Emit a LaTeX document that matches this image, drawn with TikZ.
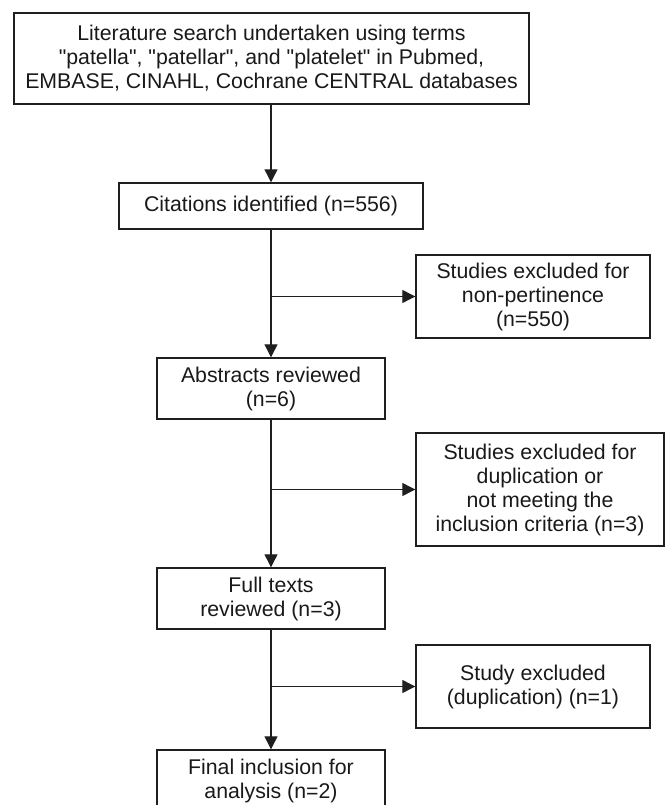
\documentclass[tikz,border=0pt]{standalone}
\usepackage{fontspec}
\setmainfont{Liberation Sans}
\usetikzlibrary{arrows.meta}
\newcommand{\dq}{\textquotedbl}
\begin{document}
\begin{tikzpicture}[x=1pt,y=-1pt,
  box/.style={draw=black!88, line width=1.4pt, inner sep=0pt, align=center,
    font=\fontsize{21.3}{24}\selectfont, text=black!90},
  arr/.style={draw=black!88, line width=1.2pt, -{Triangle[length=13pt,width=13pt]}}]
\useasboundingbox (0,0) rectangle (668,805);
\clip (0,0) rectangle (668,805);
\node[box, minimum width=515pt, minimum height=91pt] (n1) at (271.5,58.5)
  {Literature search undertaken using terms\\\dq patella\dq, \dq patellar\dq, and \dq platelet\dq{} in Pubmed,\\EMBASE, CINAHL, Cochrane CENTRAL databases};
\node[box, minimum width=304pt, minimum height=46pt] (n2) at (271,206)
  {Citations identified (n=556)};
\node[box, minimum width=234pt, minimum height=83pt] (n3) at (533,296.5)
  {Studies excluded for\\non-pertinence\\(n=550)};
\node[box, minimum width=228pt, minimum height=61pt] (n4) at (271,388.5)
  {Abstracts reviewed\\(n=6)};
\node[box, minimum width=248pt, minimum height=113pt] (n5) at (540,489.5)
  {Studies excluded for\\duplication or\\not meeting the\\inclusion criteria (n=3)};
\node[box, minimum width=228pt, minimum height=61pt] (n6) at (271,598.5)
  {Full texts\\reviewed (n=3)};
\node[box, minimum width=234pt, minimum height=83pt] (n7) at (533,686.5)
  {Study excluded\\(duplication) (n=1)};
\node[box, minimum width=228pt, minimum height=61pt] (n8) at (271,780.5)
  {Final inclusion for\\analysis (n=2)};
\coordinate (b1) at (n2.north |- n1.south);
\coordinate (b3) at (n2.south |- n3.west);
\coordinate (b5) at (n4.south |- n5.west);
\coordinate (b7) at (n6.south |- n7.west);
\draw[arr] (b1) -- (n2.north);
\draw[arr] (n2.south) -- (n4.north);
\draw[arr] (n4.south) -- (n6.north);
\draw[arr] (n6.south) -- (n8.north);
\draw[arr] (b3) -- (n3.west);
\draw[arr] (b5) -- (n5.west);
\draw[arr] (b7) -- (n7.west);
\end{tikzpicture}
\end{document}
